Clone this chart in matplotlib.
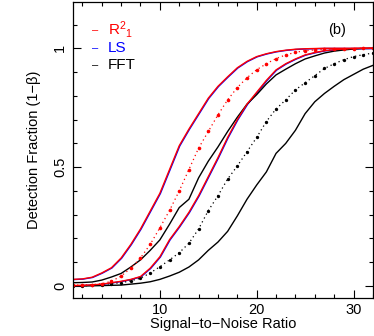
import numpy as np
import matplotlib
matplotlib.use("Agg")
import matplotlib.pyplot as plt
import matplotlib.transforms as mtransforms

plt.rcParams['font.family'] = ['Liberation Sans', 'DejaVu Sans']
plt.rcParams['mathtext.fontset'] = 'custom'
plt.rcParams['mathtext.rm'] = 'Liberation Sans'
plt.rcParams['mathtext.it'] = 'Liberation Sans'

snr = np.arange(1, 33)

# R^2_1, first case (solid, leftmost)
r2_a = [0.028, 0.03, 0.037, 0.055, 0.077, 0.118, 0.175, 0.24, 0.315, 0.39,
        0.49, 0.59, 0.66, 0.725, 0.79, 0.84, 0.88, 0.918, 0.945, 0.965,
        0.977, 0.986, 0.992, 0.996, 0.998, 0.999, 1.0, 1.0, 1.0, 1.0, 1.0, 1.0]
# R^2_1, dotted case
r2_dot = [0.004, 0.004, 0.006, 0.01, 0.02, 0.042, 0.075, 0.118, 0.175, 0.245,
          0.318, 0.40, 0.49, 0.58, 0.65, 0.72, 0.783, 0.835, 0.876, 0.91,
          0.935, 0.957, 0.972, 0.983, 0.99, 0.993, 0.996, 0.997, 0.998, 0.999, 1.0, 1.0]
# R^2_1 / LS, second solid case
r2_b = [0.002, 0.003, 0.005, 0.008, 0.014, 0.02, 0.028, 0.04, 0.075, 0.123,
        0.195, 0.25, 0.31, 0.38, 0.46, 0.54, 0.625, 0.70, 0.765, 0.815,
        0.865, 0.909, 0.935, 0.955, 0.972, 0.982, 0.99, 0.994, 0.997, 0.999, 1.0, 1.0]
# FFT
fft_a = [0.014, 0.015, 0.017, 0.025, 0.038, 0.053, 0.08, 0.11, 0.15, 0.194,
         0.26, 0.33, 0.365, 0.455, 0.525, 0.585, 0.65, 0.71, 0.765, 0.805,
         0.85, 0.888, 0.912, 0.935, 0.955, 0.968, 0.98, 0.988, 0.993, 0.997, 0.999, 1.0]
fft_dot = [0.0, 0.001, 0.003, 0.006, 0.01, 0.014, 0.022, 0.033, 0.055, 0.081,
           0.11, 0.14, 0.18, 0.24, 0.317, 0.38, 0.45, 0.505, 0.565, 0.625,
           0.692, 0.745, 0.783, 0.825, 0.855, 0.885, 0.915, 0.935, 0.952, 0.965, 0.973, 0.98]
fft_b = [0.0, 0.0, 0.001, 0.002, 0.003, 0.004, 0.008, 0.012, 0.018, 0.028,
         0.042, 0.058, 0.08, 0.11, 0.15, 0.185, 0.23, 0.295, 0.365, 0.425,
         0.48, 0.558, 0.60, 0.655, 0.725, 0.775, 0.81, 0.84, 0.868, 0.89, 0.912, 0.928]

fig = plt.figure(figsize=(3.74, 3.36), dpi=100)
ax = fig.add_axes([0.1944, 0.114, 0.8026, 0.881])

# LS curves sit almost exactly under the R^2 ones, peeking out a little
shift = mtransforms.offset_copy(ax.transData, fig=fig, x=0.4, y=-0.15, units='points')
lw = 1.0
ax.plot(snr, r2_a, color='blue', lw=lw, transform=shift)
ax.plot(snr, r2_b, color='blue', lw=lw, transform=shift)
ax.plot(snr, fft_a, color='black', lw=lw)
ax.plot(snr, fft_b, color='black', lw=lw)
ax.plot(snr, fft_dot, color='black', lw=0.9, ls=(0, (1, 2.5)),
        marker='o', ms=2.4, mew=0)
ax.plot(snr, r2_a, color='red', lw=lw)
ax.plot(snr, r2_b, color='red', lw=lw)
ax.plot(snr, r2_dot, color='red', lw=0.9, ls=(0, (1, 2.5)),
        marker='o', ms=2.6, mew=0)

ax.set_xlim(1, 32)
ax.set_ylim(-0.049, 1.196)
ax.set_xticks([10, 20, 30])
ax.set_xticks(np.arange(2, 33, 2), minor=True)
ax.set_yticks([0, 0.5, 1])
ax.set_yticklabels(['0', '0.5', '1'], rotation=90, va='center')
ax.set_yticks(np.arange(0, 1.2, 0.1), minor=True)
ax.tick_params(which='both', direction='in', top=True, right=True, labelsize=10.5,
               width=0.8)
ax.tick_params(which='major', length=6, pad=4)
ax.tick_params(which='minor', length=3)
for s in ax.spines.values():
    s.set_linewidth(0.9)

ax.set_xlabel('Signal\u2212to\u2212Noise Ratio', fontsize=10.5, labelpad=0)
ax.set_ylabel('Detection Fraction (1\u2212\u03b2)', fontsize=10.5, labelpad=9)

leg_names = [r'R$^2{}_1$', 'LS', 'FFT']
leg_colors = ['red', 'blue', 'black']
leg_y = [1.077, 1.0, 0.93]
for name, c, yy in zip(leg_names, leg_colors, leg_y):
    ax.text(3.27, yy, '\u2013', color=c, fontsize=8, ha='center', va='center')
    ax.text(4.6, yy, name, color=c, fontsize=11, ha='left', va='center')

ax.text(28.3, 1.077, '(b)', fontsize=10.5, ha='center', va='center')

fig.savefig('out.png', dpi=100)
